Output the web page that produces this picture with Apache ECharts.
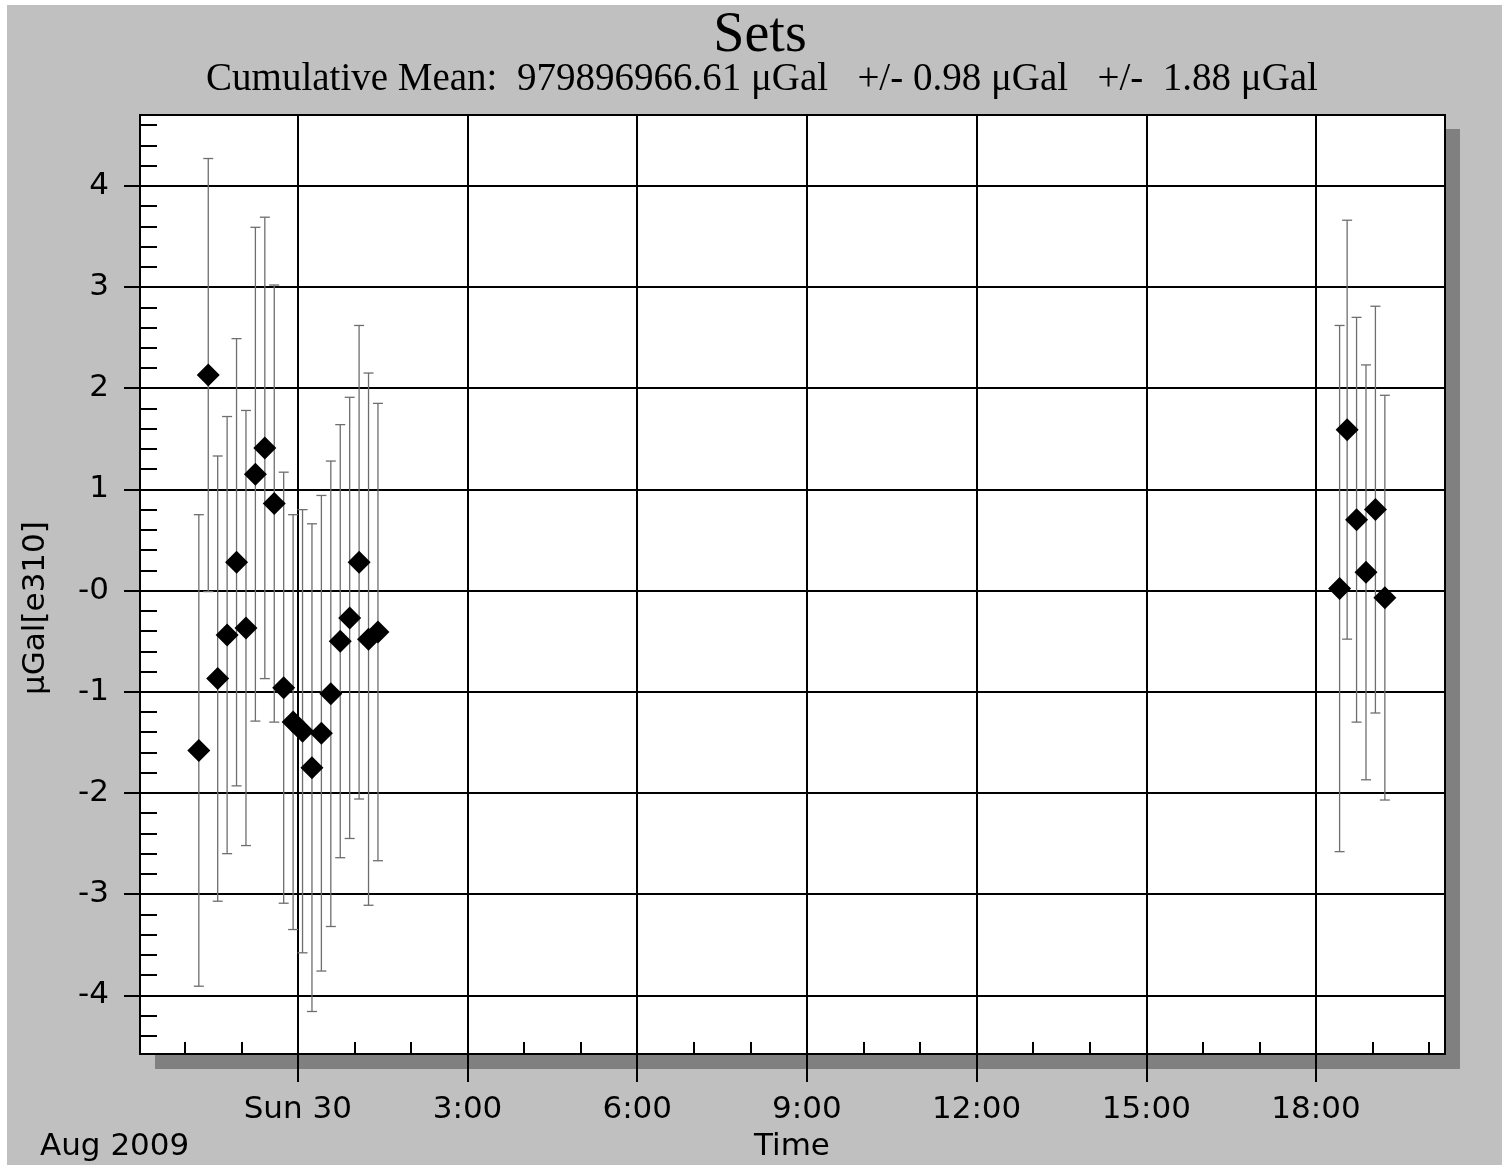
<!DOCTYPE html>
<html><head><meta charset="utf-8">
<script src="https://cdn.jsdelivr.net/npm/echarts@6/dist/echarts.min.js"></script>
<style>html,body{margin:0;padding:0;background:#fff;overflow:hidden}#c{width:1502px;height:1165px}</style>
</head><body><div id="c"></div><script>
// ---- data ----
const setTimes = ['29 22:15','29 22:25','29 22:35','29 22:45','29 22:55','29 23:05','29 23:15','29 23:25','29 23:35','29 23:45',
                  '29 23:55','30 00:05','30 00:15','30 00:25','30 00:35','30 00:45','30 00:55','30 01:05','30 01:15','30 01:25',
                  '30 18:25','30 18:33','30 18:43','30 18:53','30 19:03','30 19:13'];
const setValues = [-1.58, 2.13, -0.87, -0.44, 0.28, -0.37, 1.15, 1.41, 0.86, -0.96,
                   -1.30, -1.39, -1.75, -1.41, -1.02, -0.50, -0.27, 0.28, -0.48, -0.41,
                   0.02, 1.59, 0.70, 0.18, 0.80, -0.07];
const setErrors = [2.33, 2.14, 2.20, 2.16, 2.21, 2.15, 2.44, 2.28, 2.16, 2.13,
                   2.05, 2.19, 2.41, 2.35, 2.30, 2.14, 2.18, 2.34, 2.63, 2.26,
                   2.60, 2.07, 2.00, 2.05, 2.01, 2.00];
// ---- ticks ----
const xMajorHours = [0, 3, 6, 9, 12, 15, 18];
const xMajorLabels = ['Sun 30', '3:00', '6:00', '9:00', '12:00', '15:00', '18:00'];
const xMinorHours = [-2, -1, 1, 2, 4, 5, 7, 8, 10, 11, 13, 14, 16, 17, 19, 20];
const yMajor = [-4, -3, -2, -1, 0, 1, 2, 3, 4];
const yMajorLabels = ['-4', '-3', '-2', '-1', '-0', '1', '2', '3', '4'];
const yMinor = [-4.4,-4.2,-3.8,-3.6,-3.4,-3.2,-2.8,-2.6,-2.4,-2.2,-1.8,-1.6,-1.4,-1.2,-0.8,-0.6,-0.4,-0.2,
                0.2,0.4,0.6,0.8,1.2,1.4,1.6,1.8,2.2,2.4,2.6,2.8,3.2,3.4,3.6,3.8,4.2,4.4,4.6];
const xRange = [-2.79, 20.28];
const yRange = [-4.58, 4.70];

function toHours(s) {
  const day = parseInt(s.slice(0, 2), 10);
  const h = parseInt(s.slice(3, 5), 10);
  const m = parseInt(s.slice(6, 8), 10);
  return (day - 30) * 24 + h + m / 60;
}
const xs = setTimes.map(toHours);
const points = xs.map((x, i) => [x, setValues[i]]);
const bars = xs.map((x, i) => [x, setValues[i] - setErrors[i], setValues[i] + setErrors[i]]);

const SANS = '"DejaVu Sans", sans-serif';
const SERIF = '"Liberation Serif", "Times New Roman", serif';

const chart = echarts.init(document.getElementById('c'), null, {renderer: 'canvas'});
chart.setOption({
  animation: false,
  backgroundColor: '#c0c0c0',
  grid: {
    left: 140, top: 115, right: 57, bottom: 111,
    show: true, backgroundColor: '#ffffff', borderColor: '#000', borderWidth: 2,
    outerBoundsMode: 'none'
  },
  xAxis: [
    {
      type: 'value', min: xRange[0], max: xRange[1], position: 'bottom',
      axisLine: {show: true, onZero: false, lineStyle: {color: '#000', width: 2}},
      axisTick: {show: true, inside: false, length: 28, customValues: xMajorHours, lineStyle: {color: '#000', width: 2}},
      axisLabel: {show: true, customValues: xMajorHours, margin: 40, color: '#000', fontFamily: SANS, fontSize: 31,
        formatter: v => { const i = xMajorHours.indexOf(v); return i >= 0 ? xMajorLabels[i] : ''; }},
      splitLine: {show: true, lineStyle: {color: '#000', width: 2}}
    },
    {
      type: 'value', min: xRange[0], max: xRange[1], position: 'bottom',
      axisLine: {show: false, onZero: false},
      axisTick: {show: true, inside: true, length: 12, customValues: xMinorHours, lineStyle: {color: '#000', width: 2}},
      axisLabel: {show: false},
      splitLine: {show: false}
    }
  ],
  yAxis: [
    {
      type: 'value', min: yRange[0], max: yRange[1], position: 'left',
      axisLine: {show: true, onZero: false, lineStyle: {color: '#000', width: 2}},
      axisTick: {show: true, inside: false, length: 16, customValues: yMajor, lineStyle: {color: '#000', width: 2}},
      axisLabel: {show: true, customValues: yMajor, margin: 31, color: '#000', fontFamily: SANS, fontSize: 31,
        formatter: v => { const i = yMajor.indexOf(v); return i >= 0 ? yMajorLabels[i] : ''; }},
      splitLine: {show: true, lineStyle: {color: '#000', width: 2}}
    },
    {
      type: 'value', min: yRange[0], max: yRange[1], position: 'left',
      axisLine: {show: false, onZero: false},
      axisTick: {show: true, inside: true, length: 17, customValues: yMinor, lineStyle: {color: '#000', width: 2}},
      axisLabel: {show: false},
      splitLine: {show: false}
    }
  ],
  series: [
    {
      type: 'custom', xAxisIndex: 0, yAxisIndex: 0, data: bars, encode: {x: 0, y: [1, 2]}, z: 2,
      renderItem: function (params, api) {
        const x = api.value(0), lo = api.value(1), hi = api.value(2);
        const a = api.coord([x, hi]), b = api.coord([x, lo]);
        const cw = 5;
        const st = {stroke: '#6e6e6e', lineWidth: 1.3};
        return {type: 'group', children: [
          {type: 'line', shape: {x1: a[0], y1: a[1], x2: b[0], y2: b[1]}, style: st},
          {type: 'line', shape: {x1: a[0] - cw, y1: a[1], x2: a[0] + cw, y2: a[1]}, style: st},
          {type: 'line', shape: {x1: b[0] - cw, y1: b[1], x2: b[0] + cw, y2: b[1]}, style: st}
        ]};
      }
    },
    {
      type: 'scatter', xAxisIndex: 0, yAxisIndex: 0, data: points, z: 3,
      symbol: 'diamond', symbolSize: [23, 23],
      itemStyle: {color: '#000', opacity: 1}
    }
  ],
  graphic: [
    {type: 'rect', left: 155, top: 129, shape: {width: 1305, height: 940}, style: {fill: '#808080'}, z: -10, silent: true},
    {type: 'rect', left: 0, top: 0, shape: {width: 1502, height: 5}, style: {fill: '#fff'}, z: 100, silent: true},
    {type: 'rect', left: 0, top: 0, shape: {width: 7, height: 1165}, style: {fill: '#fff'}, z: 100, silent: true},
    {type: 'text', x: 760, y: 36, style: {text: 'Sets', font: '56px ' + SERIF, fill: '#000', textAlign: 'center', textVerticalAlign: 'middle'}, z: 100},
    {type: 'text', x: 762, y: 80, style: {text: 'Cumulative Mean:  979896966.61 \u03bcGal   +/- 0.98 \u03bcGal   +/-  1.88 \u03bcGal', font: '39px ' + SERIF, fill: '#000', textAlign: 'center', textVerticalAlign: 'middle'}, z: 100},
    {type: 'text', x: 792, y: 1147, style: {text: 'Time', font: '31px ' + SANS, fill: '#000', textAlign: 'center', textVerticalAlign: 'middle'}, z: 100},
    {type: 'text', x: 40, y: 1147, style: {text: 'Aug 2009', font: '31px ' + SANS, fill: '#000', textAlign: 'left', textVerticalAlign: 'middle'}, z: 100},
    {type: 'text', x: 36, y: 608, rotation: Math.PI / 2, style: {text: '\u03bcGal[e310]', font: '31px ' + SANS, fill: '#000', textAlign: 'center', textVerticalAlign: 'middle'}, z: 100}
  ]
});
</script></body></html>
